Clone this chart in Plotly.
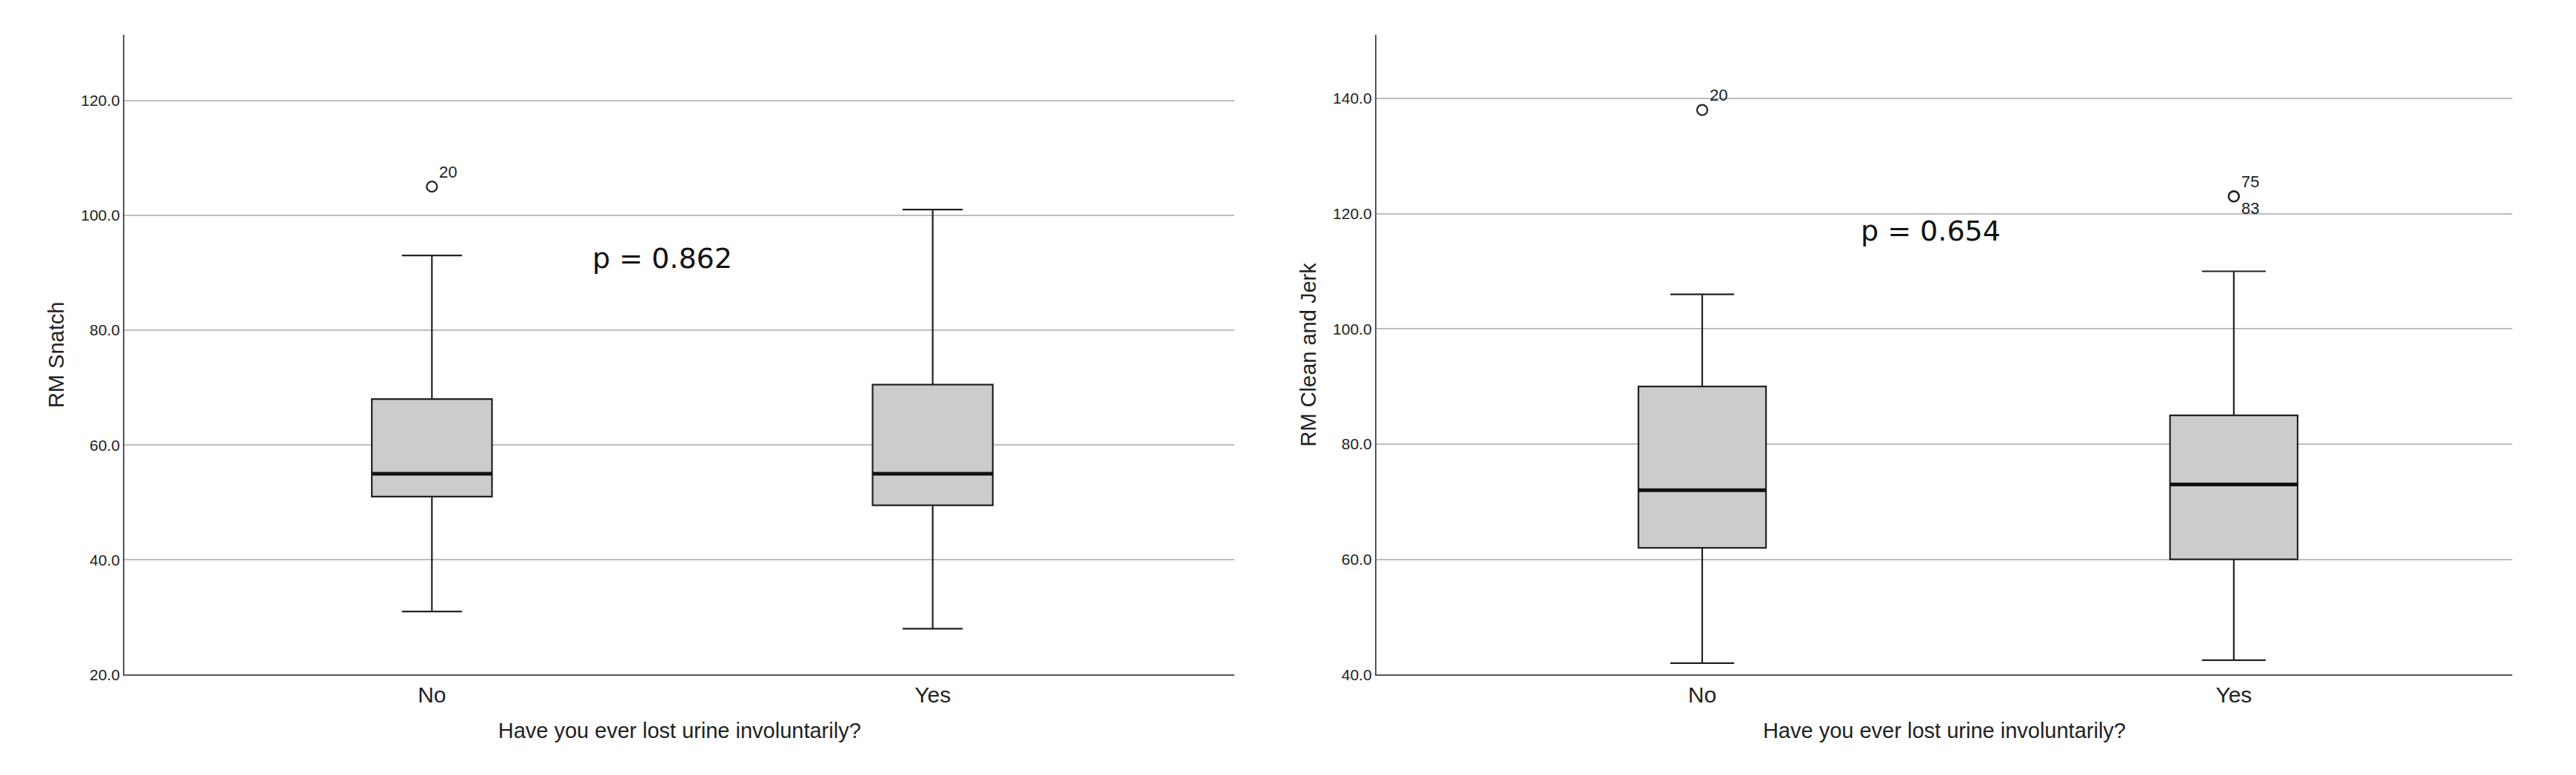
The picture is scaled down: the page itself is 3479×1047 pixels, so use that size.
import plotly.graph_objects as go
from plotly.subplots import make_subplots

groups = ["No", "Yes"]

# RM Snatch
snatch_low = [31, 28]
snatch_q1 = [51, 49.5]
snatch_med = [55, 55]
snatch_q3 = [68, 70.5]
snatch_high = [93, 101]
snatch_out_x = ["No"]
snatch_out_y = [105]
snatch_out_lab = ["20"]

# RM Clean and Jerk
cj_low = [42, 42.5]
cj_q1 = [62, 60]
cj_med = [72, 73]
cj_q3 = [90, 85]
cj_high = [106, 110]
cj_out_x = ["No", "Yes", "Yes"]
cj_out_y = [138, 123, 123]
cj_out_lab = ["20", "75", "83"]

p_values = ["p = 0.862", "p = 0.654"]

fig = make_subplots(rows=1, cols=2)
FONT = "Liberation Sans"

panels = [
    (snatch_low, snatch_q1, snatch_med, snatch_q3, snatch_high, snatch_out_x, snatch_out_y, snatch_out_lab),
    (cj_low, cj_q1, cj_med, cj_q3, cj_high, cj_out_x, cj_out_y, cj_out_lab),
]
for i, (lo, q1, md, q3, hi, ox, oy, ol) in enumerate(panels):
    col = i + 1
    fig.add_trace(go.Box(
        x=groups, lowerfence=lo, q1=q1, median=md, q3=q3, upperfence=hi,
        width=0.24, fillcolor="#cccccc", line=dict(color="#222", width=2.2),
        whiskerwidth=0.5, boxpoints=False, showlegend=False, hoverinfo="skip",
    ), row=1, col=col)
    # thicker median lines
    xr = "x" if col == 1 else "x2"
    yr = "y" if col == 1 else "y2"
    for k, m in enumerate(md):
        fig.add_shape(type="line", xref=xr, yref=yr, x0=k - 0.12, x1=k + 0.12, y0=m, y1=m,
                      line=dict(color="#111", width=5))
    # outliers with case labels
    seen = {}
    for x, y, lab in zip(ox, oy, ol):
        n = seen.get((x, y), 0)
        seen[(x, y)] = n + 1
        fig.add_trace(go.Scatter(x=[x], y=[y], mode="markers",
                                 marker=dict(symbol="circle-open", size=14, color="#222", line=dict(width=2.2)),
                                 showlegend=False, hoverinfo="skip"), row=1, col=col)
        fig.add_annotation(x=x, y=y, xref=xr, yref=yr, text=lab, showarrow=False,
                           xanchor="left", xshift=8, yshift=-16 if n else 20,
                           font=dict(size=22, color="#222", family=FONT))

fig.add_annotation(x=0.46, y=92.5, xref="x", yref="y", text=p_values[0], showarrow=False,
                   xanchor="center", font=dict(size=38, color="#111", family="DejaVu Sans"))
fig.add_annotation(x=0.43, y=117, xref="x2", yref="y2", text=p_values[1], showarrow=False,
                   xanchor="center", font=dict(size=38, color="#111", family="DejaVu Sans"))

xcommon = dict(showgrid=False, showline=True, linecolor="#555", linewidth=2, ticks="",
               tickfont=dict(size=30, color="#222", family=FONT),
               title=dict(text="Have you ever lost urine involuntarily?",
                          font=dict(size=29, color="#222", family=FONT), standoff=22),
               zeroline=False)
ycommon = dict(showgrid=True, gridcolor="#bdbdbd", gridwidth=2, showline=True, linecolor="#555",
               linewidth=2, ticks="", tickformat=".1f", dtick=20, zeroline=False,
               tickfont=dict(size=21, color="#222", family=FONT))
fig.update_xaxes(domain=[0.046, 0.477], range=[-0.614, 1.603], row=1, col=1, **xcommon)
fig.update_xaxes(domain=[0.532, 0.973], range=[-0.613, 1.524], row=1, col=2, **xcommon)
fig.update_yaxes(range=[20, 131.4], tick0=20, domain=[0.128, 0.962],
                 title=dict(text="RM Snatch", font=dict(size=29, color="#222", family=FONT), standoff=14),
                 row=1, col=1, **ycommon)
fig.update_yaxes(range=[40, 151], tick0=40, domain=[0.128, 0.962],
                 title=dict(text="RM Clean and Jerk", font=dict(size=29, color="#222", family=FONT), standoff=14),
                 row=1, col=2, **ycommon)

fig.update_layout(width=3479, height=1047, plot_bgcolor="white", paper_bgcolor="white",
                  margin=dict(l=0, r=0, t=0, b=0))
fig.write_html("out.html")
